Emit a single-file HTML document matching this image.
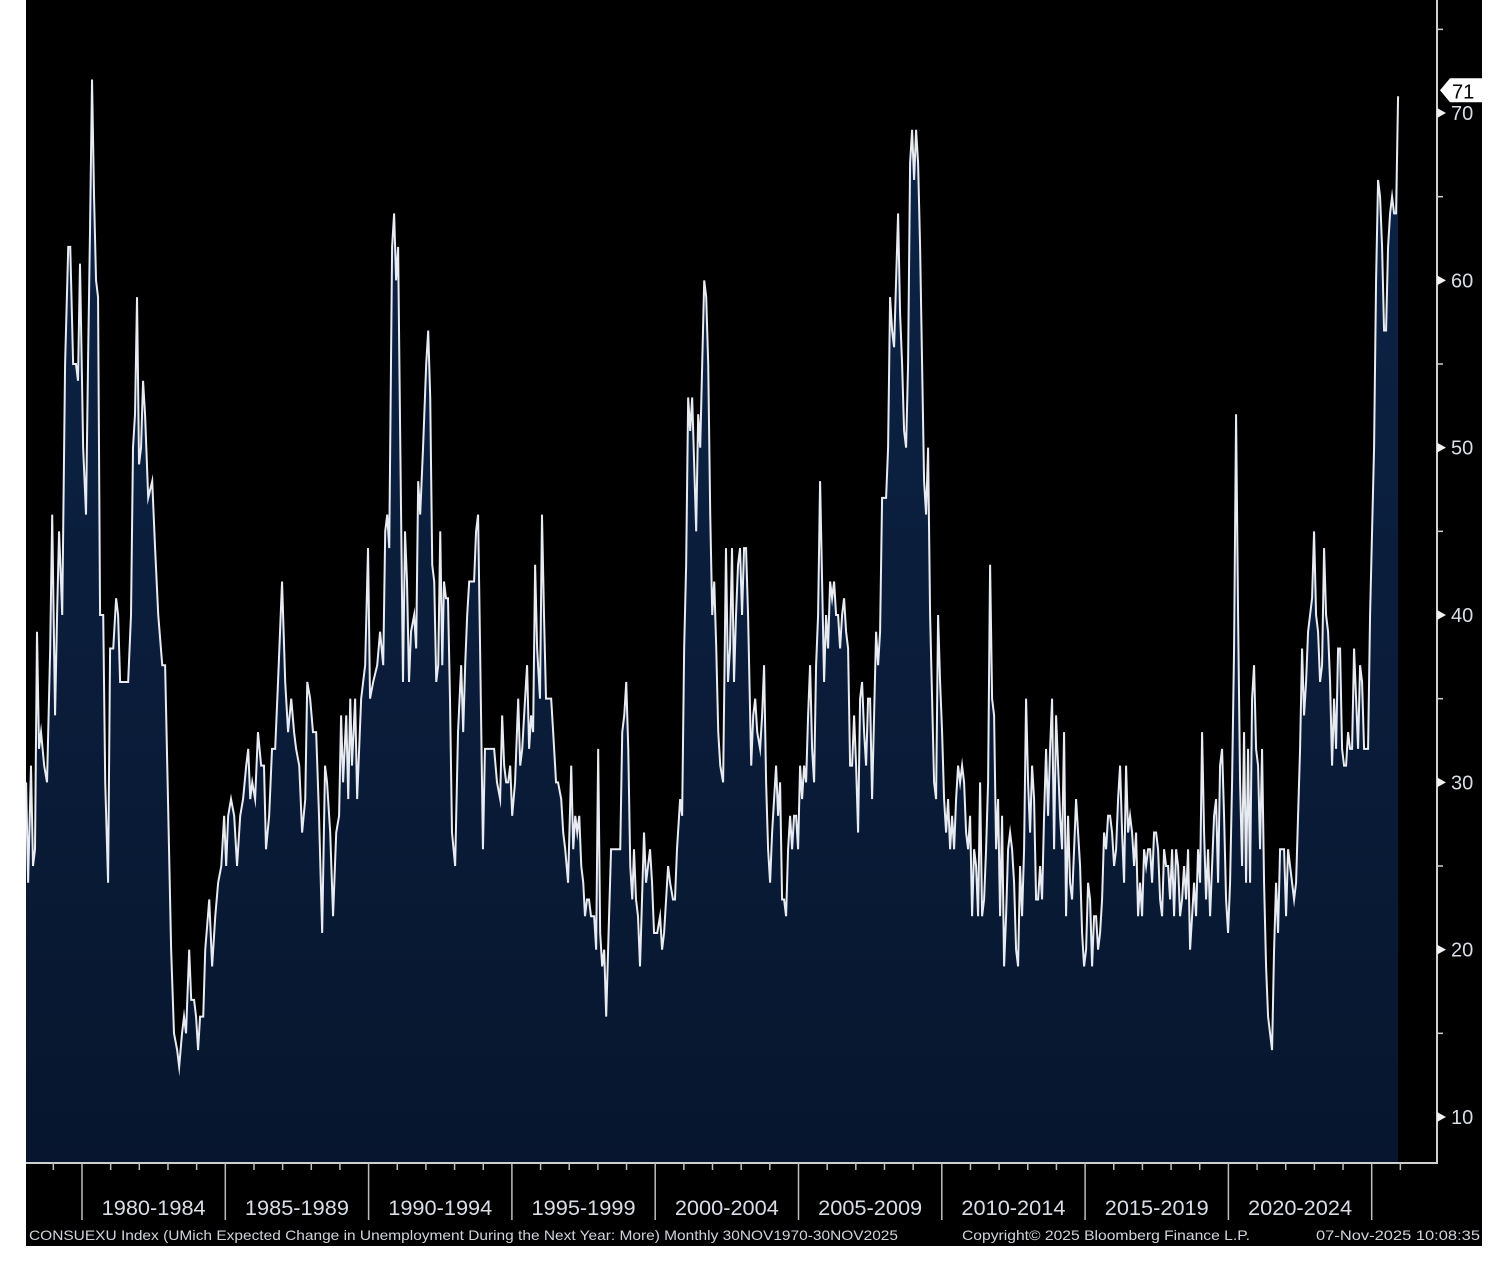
<!DOCTYPE html>
<html><head><meta charset="utf-8">
<style>
html,body{margin:0;padding:0;background:#fff;}
svg{display:block;}
text{font-family:"Liberation Sans","DejaVu Sans",sans-serif;}
</style></head>
<body>
<svg id="chart" width="1494" height="1274" viewBox="0 0 1494 1274">
<rect x="26" y="0" width="1456" height="1246" fill="#000"/>
<defs>
<linearGradient id="fillGrad" x1="0" y1="0" x2="0" y2="1">
<stop offset="0" stop-color="#0d2447"/>
<stop offset="1" stop-color="#07162e"/>
</linearGradient>
</defs>
<g id="plot"></g>
<g id="axes"></g>
</svg>
<script>
// ---- data ----
const headYears = [1978.05,1978.12,1978.22,1978.29,1978.36,1978.43,1978.50,1978.57,1978.68,1978.78,1978.89,1978.96,1979.06,1979.13,1979.20,1979.31,1979.41,1979.52,1979.59,1979.69,1979.79,1979.86,1979.93,1980.04,1980.14,1980.21,1980.28,1980.35,1980.42,1980.49,1980.56,1980.63,1980.74,1980.81,1980.91,1980.98,1981.09,1981.19,1981.26,1981.33,1981.47,1981.61,1981.71,1981.78,1981.85,1981.92,1981.99,1982.06,1982.13,1982.20,1982.31,1982.45,1982.55,1982.66,1982.80,1982.90,1983.00,1983.11,1983.21,1983.32,1983.39,1983.49,1983.56,1983.63,1983.74,1983.81,1983.91,1983.98,1984.05,1984.12,1984.23,1984.30,1984.44,1984.54,1984.65,1984.75,1984.86,1984.96,1985.03,1985.10,1985.20,1985.31,1985.41,1985.52,1985.62,1985.73,1985.80,1985.87,1985.94,1986.04,1986.14,1986.25,1986.35,1986.42,1986.53,1986.63,1986.74,1986.84,1986.98,1987.09,1987.19,1987.30,1987.40,1987.47,1987.58,1987.68,1987.79,1987.86,1987.96,1988.06,1988.17,1988.27,1988.38,1988.48,1988.55,1988.66,1988.76,1988.87,1988.97,1989.04,1989.11,1989.22,1989.29,1989.36,1989.42,1989.53,1989.60,1989.67,1989.74,1989.88,
1989.98,1990.05,1990.16,1990.30,1990.40,1990.51,1990.58,1990.65,1990.72,1990.82,1990.89,1990.96,1991.03,1991.10,1991.20,1991.27,1991.34,1991.41,1991.48,1991.59,1991.66,1991.73,1991.80,1991.90,1992.01,1992.08,1992.15,1992.22,1992.29,1992.36,1992.43,1992.50,1992.57,1992.63,1992.70,1992.77,1992.84,1992.91,1993.02,1993.12,1993.23,1993.30,1993.37,1993.44,1993.51,1993.58,1993.68,1993.75,1993.82,1993.89,1993.99,1994.06,1994.17,1994.27,1994.38,1994.48,1994.59,1994.66,1994.73,1994.80,1994.87,1994.94,1995.01,1995.11,1995.22,1995.29,1995.36,1995.46,1995.53,1995.60,1995.67,1995.74,1995.81,1995.88,1995.98,1996.05,1996.12,1996.19,1996.30,1996.37,1996.44,1996.54,1996.61,1996.72,1996.79,1996.86,1996.96,1997.07,1997.14,1997.21,1997.28,1997.35,1997.42,1997.49,1997.55,1997.62,1997.69,1997.76,1997.87,1997.94,1998.01,1998.08,1998.15,1998.22,1998.29,1998.39,1998.46,1998.57,1998.67,1998.78,1998.85,1998.92,1998.99,1999.06,1999.13,1999.20,1999.26,1999.33,1999.40,1999.47,1999.54,1999.61,1999.68,1999.75,1999.82,1999.89,1999.96,2000.07,2000.17,2000.24,2000.31,2000.38,2000.45,2000.52,2000.62,2000.69,2000.76,2000.87,2000.94,2001.01,2001.08,2001.15,2001.22,2001.29,2001.36,2001.43,2001.50,2001.57,2001.64,2001.71,2001.78,2001.85,2001.92,2001.99,2002.06,2002.13,2002.20,2002.27,2002.37,2002.47,2002.54,2002.61,2002.68,2002.75,2002.82,2002.89,2002.96,2003.03,2003.10,2003.17,2003.24,2003.35,2003.42,2003.49,2003.56];
const headValues = [30,24,31,25,26,39,32,33,31,30,38,46,34,40,45,40,55,62,62,55,55,54,61,50,46,55,63,72,65,60,59,40,40,30,24,38,38,41,40,36,36,36,40,50,52,59,49,50,54,52,47,48,44,40,37,37,29,20,15,14,13,15,16,15,20,17,17,16,14,16,16,20,23,19,22,24,25,28,25,28,29,28,25,28,29,31,32,29,30,29,33,31,31,26,28,32,32,36,42,36,33,35,33,32,31,27,29,36,35,33,33,28,21,31,30,27,22,27,28,34,30,34,29,35,31,35,29,32,35,37,
44,35,36,37,39,37,45,46,44,62,64,60,62,51,36,45,42,36,39,40,38,48,46,50,55,57,53,43,42,36,37,45,37,42,41,41,35,27,25,33,37,33,37,40,42,42,42,45,46,38,26,32,32,32,32,30,29,34,31,30,30,31,28,30,35,31,32,35,37,32,34,33,43,38,35,46,40,35,35,35,33,30,30,29,27,26,24,31,26,28,27,28,25,24,22,23,23,22,22,20,32,21,19,20,16,22,26,26,26,26,33,34,36,32,25,23,26,23,22,19,23,27,24,25,26,24,21,21,22,20,21,23,25,24,23,23,26,29,28,38,43,53,51,53,49,45,52,50,55,60,59,55,46,40,42,38,33,31,30,44,36,38,44,36,40,43,44,40,44,44,40,31,34,35,33];
const tailStart = 2003.66;
const tailEnd = 2025.92;
const tailValues = [32,34,37,30,26,24,27,29,31,28,30,
23,23,22,26,28,26,28,28,26,31,
29,31,30,34,37,32,30,37,40,48,
42,36,40,38,42,41,42,40,40,38,
40,41,39,38,31,31,34,31,27,35,
36,33,31,35,35,29,34,39,37,39,
47,47,47,50,59,57,56,60,64,58,
55,51,50,55,67,69,66,69,67,62,
55,48,46,50,40,35,30,29,40,36,
33,29,27,29,26,28,26,29,31,30,
31,30,27,26,28,22,26,25,22,30,
22,23,26,30,43,35,34,26,29,22,
28,19,22,26,27,26,24,20,19,25,
22,26,35,30,27,31,29,23,23,25,
23,28,32,28,32,35,26,34,31,28,
26,33,22,28,24,23,26,29,27,25,
21,19,20,24,23,19,22,22,20,21,
23,27,26,28,28,27,25,26,29,31,
27,24,31,27,28,27,25,27,22,24,
22,26,25,26,26,24,27,27,26,23,
22,26,25,25,23,26,22,26,25,22,
23,25,23,26,20,22,24,22,26,24,
33,27,23,26,22,25,28,29,24,31,
32,28,23,21,24,30,38,52,40,30,
25,33,24,32,24,35,37,32,31,26,
32,24,19,16,15,14,20,24,21,26,
26,26,22,26,25,24,23,24,28,32,
38,34,36,39,40,41,45,40,39,36,
37,44,40,39,36,31,35,32,38,38,
32,31,31,33,32,32,38,35,32,37,
36,32,32,32,40,45,50,60,66,65,
62,57,57,62,64,65,64,64,71];
const yTicks = [10,20,30,40,50,60,70];
const yMinorTicks = [15,25,35,45,55,65,75];
const periodLabels = ["1980-1984","1985-1989","1990-1994","1995-1999","2000-2004","2005-2009","2010-2014","2015-2019","2020-2024"];
const periodStarts = [1980,1985,1990,1995,2000,2005,2010,2015,2020];
const lastValue = 71;

// ---- scales ----
const X0 = 82, PX_PER_YEAR = 28.66;
function xs(year){ return X0 + (year - 1980) * PX_PER_YEAR; }
function ys(v){ return 1117 - (v - 10) * 16.733; }
const BASE = 1163, AXIS_X = 1437;

const NS = "http://www.w3.org/2000/svg";
function mk(tag, attrs, parent){ const e=document.createElementNS(NS,tag); for(const k in attrs) e.setAttribute(k,attrs[k]); parent.appendChild(e); return e; }

const years = headYears.slice();
const values = headValues.slice();
const n = tailValues.length;
for (let i=0;i<n;i++){ years.push(tailStart + i*(tailEnd-tailStart)/(n-1)); values.push(tailValues[i]); }

const plot = document.getElementById('plot');
const pts = years.map((y,i)=>xs(y).toFixed(2)+','+ys(values[i]).toFixed(2));
const area = mk('path',{d:'M'+xs(years[0]).toFixed(2)+','+BASE+' L'+pts.join(' L')+' L'+xs(years[years.length-1]).toFixed(2)+','+BASE+' Z',fill:'url(#fillGrad)'},plot);


const line = mk('polyline',{points:pts.join(' '),fill:'none',stroke:'#e8ecf2','stroke-width':'2','stroke-linejoin':'miter','stroke-miterlimit':'10'},plot);



const axes = document.getElementById('axes');
const xaxis = mk('line',{x1:26,y1:BASE,x2:AXIS_X,y2:BASE,stroke:'#cfcfcf','stroke-width':'2'},axes);


const yaxis = mk('line',{x1:AXIS_X,y1:0,x2:AXIS_X,y2:BASE+1,stroke:'#cfcfcf','stroke-width':'2'},axes);



yTicks.forEach(v=>{
  const y = ys(v);
  const tri = mk('polygon',{points:(AXIS_X)+','+(y-5)+' '+(AXIS_X+9)+','+y+' '+(AXIS_X)+','+(y+5),fill:'#f0f0f0'},axes);
  
  
  const t = mk('text',{x:AXIS_X+14,y:y+7,fill:'#d8dde6','font-size':'20'},axes);
  t.textContent = v;
  
  
});
yMinorTicks.forEach(v=>{
  const y = ys(v);
  const l = mk('line',{x1:AXIS_X,y1:y,x2:AXIS_X+6,y2:y,stroke:'#cfcfcf','stroke-width':'1.5'},axes);
  
  
});
for (let yr=1979; yr<=2026; yr++){
  const x = xs(yr);
  if (x < 26 || x > AXIS_X) continue;
  const major = yr % 5 === 0;
  const l = mk('line',{x1:x,y1:BASE,x2:x,y2:major?1220:BASE+7,stroke:'#bdbdbd','stroke-width':'1.5'},axes);
  
  
}
periodLabels.forEach((lab,i)=>{
  const t = mk('text',{x:xs(periodStarts[i]+2.5),y:1215,fill:'#d8dde6','font-size':'21','text-anchor':'middle','textLength':'104','lengthAdjust':'spacingAndGlyphs'},axes);
  t.textContent = lab;
  
  
});

// last value badge
const by = ys(lastValue) - 18;
const badge = mk('polygon',{points:'1440,'+(by+12)+' 1450,'+by+' 1482,'+by+' 1482,'+(by+24)+' 1450,'+(by+24),fill:'#ffffff'},axes);


const bt = mk('text',{x:1452,y:by+20,fill:'#000','font-size':'20'},axes);
bt.textContent = lastValue;



// footer
const f1 = mk('text',{x:29,y:1240,fill:'#d0d4da','font-size':'14','textLength':'869','lengthAdjust':'spacingAndGlyphs'},axes);
f1.textContent = 'CONSUEXU Index (UMich Expected Change in Unemployment During the Next Year: More) Monthly 30NOV1970-30NOV2025';


const f2 = mk('text',{x:962,y:1240,fill:'#d0d4da','font-size':'14','textLength':'288','lengthAdjust':'spacingAndGlyphs'},axes);
f2.textContent = 'Copyright\u00A9 2025 Bloomberg Finance L.P.';


const f3 = mk('text',{x:1316,y:1240,fill:'#d0d4da','font-size':'14','textLength':'164','lengthAdjust':'spacingAndGlyphs'},axes);
f3.textContent = '07-Nov-2025 10:08:35';


</script>
</body></html>
